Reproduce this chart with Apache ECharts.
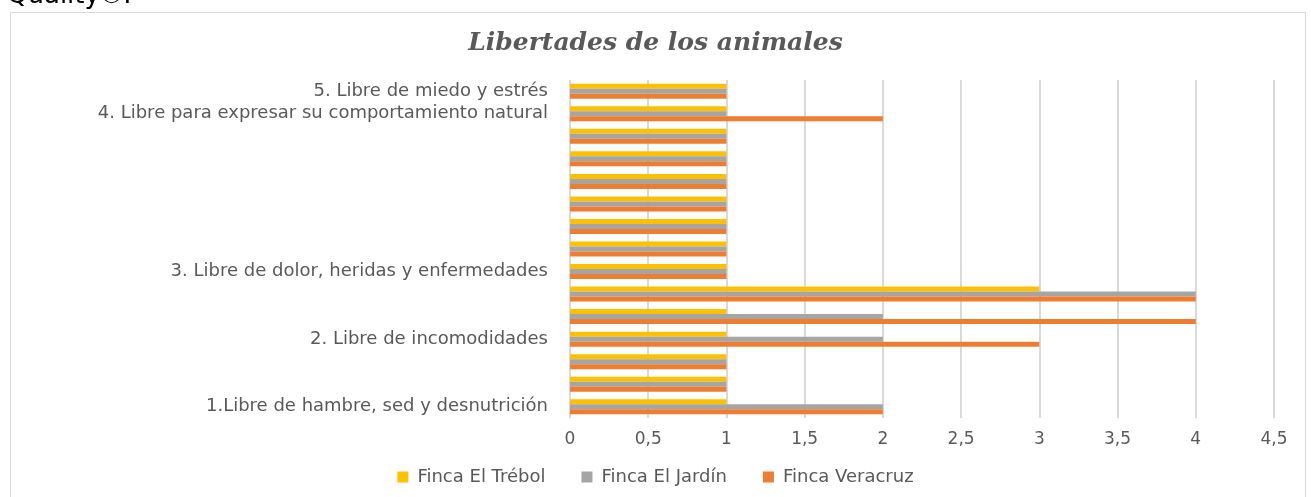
<!DOCTYPE html>
<html>
<head>
<meta charset="utf-8">
<title>Libertades de los animales</title>
<script src="https://cdn.jsdelivr.net/npm/echarts@6/dist/echarts.min.js"></script>
<style>
  html, body { margin: 0; padding: 0; background: #fff; }
  #main { width: 1311px; height: 497px; }
</style>
</head>
<body>
<div id="main"></div>
<script type="text/javascript">
// filas de abajo hacia arriba, solo algunas llevan etiqueta
var rowLabels = [
    '1.Libre de hambre, sed y desnutrición', '', '',
    '2. Libre de incomodidades', '', '',
    '3. Libre de dolor, heridas y enfermedades', '', '', '', '', '', '',
    '4. Libre para expresar su comportamiento natural',
    '5. Libre de miedo y estrés'
];
var veracruz = [2, 1, 1, 3, 4, 4, 1, 1, 1, 1, 1, 1, 1, 2, 1];
var jardin   = [2, 1, 1, 2, 2, 4, 1, 1, 1, 1, 1, 1, 1, 1, 1];
var trebol   = [1, 1, 1, 1, 1, 3, 1, 1, 1, 1, 1, 1, 1, 1, 1];
var xTicks = ['0', '0,5', '1', '1,5', '2', '2,5', '3', '3,5', '4', '4,5'];

var rowIds = rowLabels.map(function (l, i) { return 'r' + i; });
var txt = '#595959';
var font = '"DejaVu Sans", sans-serif';

var chart = echarts.init(document.getElementById('main'));
var option = {
    animation: false,
    title: {
        text: 'Libertades de los animales',
        left: 'center',
        top: 26,
        textStyle: { fontFamily: '"DejaVu Serif", serif', fontStyle: 'italic', fontWeight: 'bold', fontSize: 25, color: txt }
    },
    graphic: [
        { type: 'rect', shape: { x: 10.5, y: 12.5, width: 1295, height: 500 }, style: { fill: 'none', stroke: '#D9D9D9', lineWidth: 1 }, silent: true },
        { type: 'text', left: 7, top: -17, style: { text: 'Quality①.', fontFamily: '"DejaVu Sans", sans-serif', fontSize: 26, fill: '#000' }, silent: true }
    ],
    legend: {
        bottom: 6,
        left: 'center',
        itemWidth: 11,
        itemHeight: 11,
        itemGap: 36,
        icon: 'rect',
        data: ['Finca El Trébol', 'Finca El Jardín', 'Finca Veracruz'],
        textStyle: { color: txt, fontFamily: font, fontSize: 18, padding: [0, 0, 0, 4] }
    },
    grid: { left: 570, right: 37, top: 80, bottom: 79, containLabel: false },
    xAxis: {
        type: 'value',
        min: 0,
        max: 4.5,
        interval: 0.5,
        axisLine: { show: false },
        axisTick: { show: false },
        splitLine: { lineStyle: { color: '#D9D9D9', width: 2 } },
        axisLabel: {
            color: txt, fontFamily: font, fontSize: 17, margin: 13,
            formatter: function (v) { return xTicks[Math.round(v * 2)]; }
        }
    },
    yAxis: {
        type: 'category',
        data: rowIds,
        axisLine: { show: false },
        axisTick: { show: false },
        axisLabel: {
            interval: 0, color: txt, fontFamily: font, fontSize: 18, margin: 22,
            formatter: function (v, i) { return rowLabels[i]; }
        }
    },
    series: [
        { name: 'Finca El Trébol', type: 'bar', data: trebol, itemStyle: { color: '#FFC000' }, barWidth: 5, barGap: '0%' },
        { name: 'Finca El Jardín', type: 'bar', data: jardin, itemStyle: { color: '#A5A5A5' }, barWidth: 5, barGap: '0%' },
        { name: 'Finca Veracruz', type: 'bar', data: veracruz, itemStyle: { color: '#ED7D31' }, barWidth: 5, barGap: '0%' }
    ]
};
chart.setOption(option);
</script>
</body>
</html>
